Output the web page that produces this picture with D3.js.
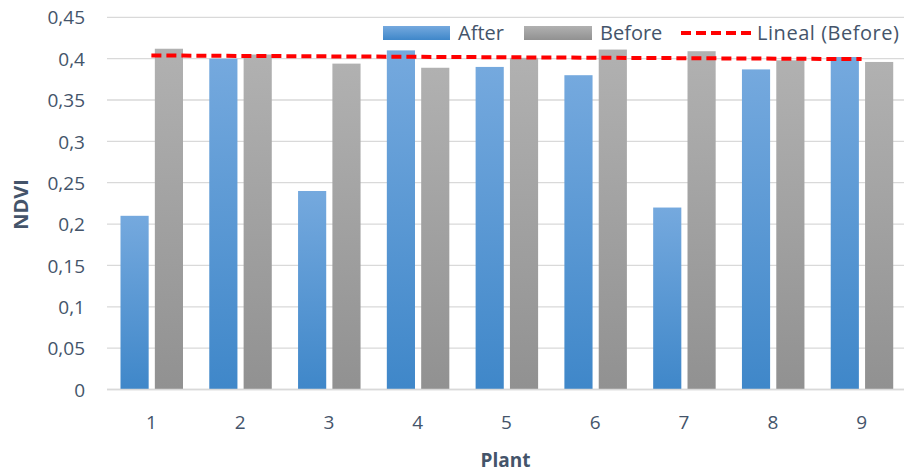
<!DOCTYPE html>
<html>
<head>
<meta charset="utf-8">
<script src="https://cdn.jsdelivr.net/npm/d3@7"></script>
<style>
  html, body { margin: 0; padding: 0; background: #fff; }
  svg { display: block; font-family: "Open Sans", sans-serif; }
</style>
</head>
<body>
<svg id="chart" width="904" height="472"></svg>
<script>
const categories = ["1", "2", "3", "4", "5", "6", "7", "8", "9"];
const seriesNames = ["After", "Before"];
const afterValues = [0.21, 0.40, 0.24, 0.41, 0.39, 0.38, 0.22, 0.387, 0.402];
const beforeValues = [0.412, 0.405, 0.394, 0.389, 0.401, 0.411, 0.409, 0.398, 0.396];
const yTicks = [0, 0.05, 0.1, 0.15, 0.2, 0.25, 0.3, 0.35, 0.4, 0.45];
const trendLabel = "Lineal (Before)";

const svg = d3.select("#chart");
const pLeft = 107, pRight = 906, pTop = 17.3, pBottom = 389.5;
const textColor = "#44546a";

const x0 = d3.scaleBand().domain(categories).range([pLeft, pRight]).padding(0);
const x1 = d3.scaleBand().domain(seriesNames).range([13.5, 76]).paddingInner(0.18);
const y = d3.scaleLinear().domain([0, 0.45]).range([pBottom, pTop]);

const defs = svg.append("defs");
const gradBlue = defs.append("linearGradient").attr("id", "gBlue").attr("x1", 0).attr("y1", 0).attr("x2", 0).attr("y2", 1);
gradBlue.append("stop").attr("offset", "0%").attr("stop-color", "#75a9de");
gradBlue.append("stop").attr("offset", "100%").attr("stop-color", "#3f87c9");
const gradGray = defs.append("linearGradient").attr("id", "gGray").attr("x1", 0).attr("y1", 0).attr("x2", 0).attr("y2", 1);
gradGray.append("stop").attr("offset", "0%").attr("stop-color", "#b1b1b1");
gradGray.append("stop").attr("offset", "100%").attr("stop-color", "#919191");
const fills = { "After": "url(#gBlue)", "Before": "url(#gGray)" };

// gridlines
svg.append("g").selectAll("line").data(yTicks).join("line")
  .attr("x1", pLeft).attr("x2", 904)
  .attr("y1", d => y(d)).attr("y2", d => y(d))
  .attr("stroke", "#d9d9d9").attr("stroke-width", 1.3);

// y axis labels
const yAxis = d3.axisLeft(y).tickValues(yTicks).tickSize(0).tickPadding(0)
  .tickFormat(d => String(d).replace(".", ","));
const yg = svg.append("g").attr("transform", `translate(${pLeft - 22},0)`).call(yAxis);
yg.select(".domain").remove();
yg.selectAll("text").attr("fill", textColor).style("font-size", "19px").style("font-family", "'Open Sans', sans-serif").attr("dy", "0.35em");

// x axis labels
const xAxis = d3.axisBottom(x0).tickSize(0).tickPadding(0);
const xg = svg.append("g").attr("transform", `translate(0,${pBottom + 33})`).call(xAxis);
xg.select(".domain").remove();
xg.selectAll("text").attr("fill", textColor).style("font-size", "19px").style("font-family", "'Open Sans', sans-serif").attr("dy", "0.35em");

// bars
const data = categories.map((c, i) => ({ cat: c, vals: [
  { s: "After", v: afterValues[i] }, { s: "Before", v: beforeValues[i] }] }));
svg.append("g").selectAll("g").data(data).join("g")
  .attr("transform", d => `translate(${x0(d.cat)},0)`)
  .selectAll("rect").data(d => d.vals).join("rect")
  .attr("x", d => x1(d.s)).attr("width", x1.bandwidth())
  .attr("y", d => y(d.v)).attr("height", d => y(0) - y(d.v))
  .attr("fill", d => fills[d.s]);

// baseline
svg.append("line").attr("x1", pLeft).attr("x2", 904).attr("y1", y(0)).attr("y2", y(0))
  .attr("stroke", "#d9d9d9").attr("stroke-width", 1.3);

// linear trend of Before
const xs = categories.map((c, i) => i + 1);
const mx = d3.mean(xs), my = d3.mean(beforeValues);
const slope = d3.sum(xs, (xv, i) => (xv - mx) * (beforeValues[i] - my)) / d3.sum(xs, xv => (xv - mx) ** 2);
const icpt = my - slope * mx;
const trendPts = [0, categories.length - 1].map(i => [x0(categories[i]) + x0.bandwidth() / 2, y(icpt + slope * (i + 1))]);
svg.append("path").attr("d", d3.line()(trendPts))
  .attr("stroke", "#ff0000").attr("stroke-width", 4).attr("stroke-dasharray", "10,5")
  .attr("fill", "none");

// legend
const lg = svg.append("g").attr("transform", "translate(0,33)");
lg.append("rect").attr("x", 383).attr("y", -7).attr("width", 67).attr("height", 14).attr("fill", "url(#gBlue)");
lg.append("text").attr("x", 458).attr("y", 0).attr("dy", "0.35em").text(seriesNames[0])
  .attr("fill", textColor).style("font-size", "20px");
lg.append("rect").attr("x", 524).attr("y", -7).attr("width", 68).attr("height", 14).attr("fill", "url(#gGray)");
lg.append("text").attr("x", 600).attr("y", 0).attr("dy", "0.35em").text(seriesNames[1])
  .attr("fill", textColor).style("font-size", "20px");
lg.append("line").attr("x1", 681).attr("x2", 751).attr("y1", 0).attr("y2", 0)
  .attr("stroke", "#ff0000").attr("stroke-width", 4).attr("stroke-dasharray", "10,5");
lg.append("text").attr("x", 757).attr("y", 0).attr("dy", "0.35em").text(trendLabel)
  .attr("fill", textColor).style("font-size", "20px").attr("textLength", 142).attr("lengthAdjust", "spacing");

// axis titles
svg.append("text").attr("transform", `translate(21,${(pTop + pBottom) / 2 + 1}) rotate(-90)`)
  .attr("text-anchor", "middle").attr("dy", "0.35em").text("NDVI")
  .attr("fill", textColor).style("font-size", "20px").style("font-weight", "bold");
svg.append("text").attr("x", (pLeft + 904) / 2).attr("y", 460).attr("dy", "0.35em")
  .attr("text-anchor", "middle").text("Plant")
  .attr("fill", textColor).style("font-size", "19px").style("font-weight", "bold");
</script>
</body>
</html>
